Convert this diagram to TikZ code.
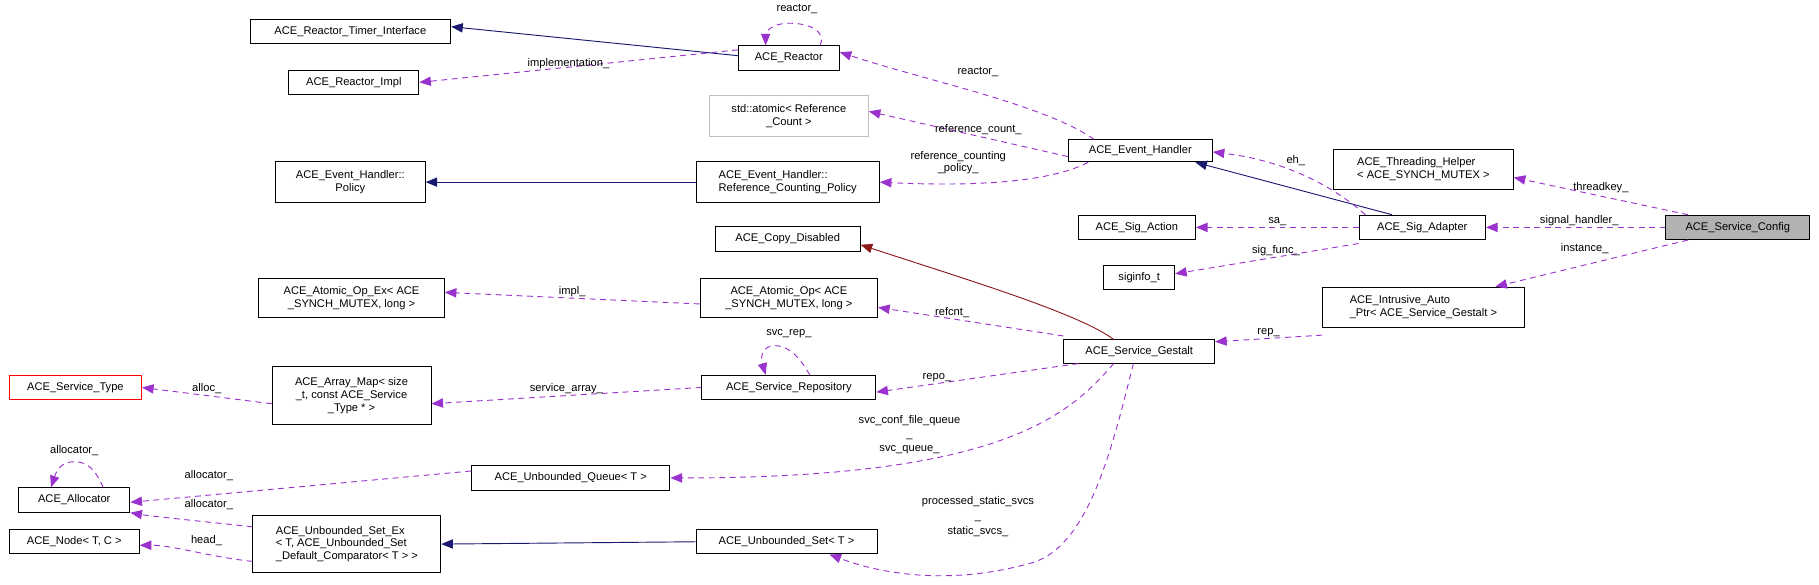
\documentclass[tikz,border=0pt]{standalone}
\usepackage{fontspec}
\setmainfont{Liberation Sans}
\usetikzlibrary{arrows.meta}
\definecolor{inh}{HTML}{191970}
\definecolor{use}{HTML}{9A32CD}
\definecolor{pri}{HTML}{8B1A1A}
\begin{document}
\begin{tikzpicture}[x=1pt,y=-1pt,
  every node/.style={font=\fontsize{9.6}{11}\selectfont},
  box/.style={draw=black,line width=0.8pt,fill=white,inner sep=0pt,align=center,minimum height=21pt},
  arr/.style={-{Triangle[length=10pt,width=8pt]}},
  ih/.style={arr,draw=inh,line width=0.8pt},
  pr/.style={arr,draw=pri,line width=0.8pt},
  us/.style={arr,draw=use,line width=0.8pt,dash pattern=on 5pt off 4pt},
  lb/.style={inner sep=1pt,align=center,font=\fontsize{9.6}{8}\selectfont}]
\useasboundingbox (0,0) rectangle (1568,504);
\node[box,minimum width=173pt] (rti) at (302,27) {ACE\_Reactor\_Timer\_Interface};
\node[box,minimum width=112pt] (rim) at (305,71) {ACE\_Reactor\_Impl};
\node[box,minimum width=87pt] (rea) at (680,50) {ACE\_Reactor};
\node[box,draw=black!25,minimum width=137pt,minimum height=35pt] (sta) at (680,100) {std::atomic< Reference\\\_Count >};
\node[box,minimum width=129pt,minimum height=35pt] (pol) at (302,157) {ACE\_Event\_Handler::\\Policy};
\node[box,minimum width=158pt,minimum height=35pt,align=left] (rcp) at (679,157) {ACE\_Event\_Handler::\\Reference\_Counting\_Policy};
\node[box,minimum width=124pt,minimum height=19pt] (eh) at (983,130) {ACE\_Event\_Handler};
\node[box,minimum width=155pt,minimum height=35pt,align=left] (thr) at (1227,146) {ACE\_Threading\_Helper\\< ACE\_SYNCH\_MUTEX >};
\node[box,minimum width=101pt] (sac) at (980,196) {ACE\_Sig\_Action};
\node[box,minimum width=109pt] (sad) at (1226,196) {ACE\_Sig\_Adapter};
\node[box,fill=black!30,minimum width=124pt] (sc) at (1498,196) {ACE\_Service\_Config};
\node[box,minimum width=61pt] (sig) at (982,239) {siginfo\_t};
\node[box,minimum width=125pt] (cd) at (679,206) {ACE\_Copy\_Disabled};
\node[box,minimum width=160pt,minimum height=34pt] (aox) at (303,257) {ACE\_Atomic\_Op\_Ex< ACE\\\_SYNCH\_MUTEX, long >};
\node[box,minimum width=153pt,minimum height=34pt] (ao) at (680,257) {ACE\_Atomic\_Op< ACE\\\_SYNCH\_MUTEX, long >};
\node[box,minimum width=174pt,minimum height=35pt,align=left] (iap) at (1227,265) {ACE\_Intrusive\_Auto\\\_Ptr< ACE\_Service\_Gestalt >};
\node[box,minimum width=130pt,minimum height=20pt] (sg) at (982,303) {ACE\_Service\_Gestalt};
\node[box,draw=red,minimum width=114pt] (st) at (65,334) {ACE\_Service\_Type};
\node[box,minimum width=137pt,minimum height=50pt] (am) at (303,341) {ACE\_Array\_Map< size\\\_t, const ACE\_Service\\\_Type * >};
\node[box,minimum width=150pt] (sr) at (680,334) {ACE\_Service\_Repository};
\node[box,minimum width=171pt] (uq) at (492,412) {ACE\_Unbounded\_Queue< T >};
\node[box,minimum width=96pt] (al) at (64,431) {ACE\_Allocator};
\node[box,minimum width=162pt,minimum height=49pt,align=left] (usx) at (299,469) {ACE\_Unbounded\_Set\_Ex\\< T, ACE\_Unbounded\_Set\\\_Default\_Comparator< T > >};
\node[box,minimum width=156pt] (us) at (678,467) {ACE\_Unbounded\_Set< T >};
\node[box,minimum width=112pt] (nd) at (64,467) {ACE\_Node< T, C >};
% inheritance
\draw[ih] ([yshift=2pt]rea.west) -- ([yshift=4pt]rti.east);
\draw[ih] (rcp.west) -- (pol.east);
\draw[ih] ([xshift=-26pt]sad.north) -- ([xshift=-15pt]eh.south east);
\draw[ih] (us.west) -- (usx.east);
\draw[pr] ([xshift=-22pt]sg.north) .. controls (930,270) and (830,240) .. ([yshift=-5pt]cd.east);
% usage
\draw[us] ([xshift=27pt]rea.north) .. controls (712,28) and (700,20) .. (680,20) .. controls (665,20) and (660,28) .. ([xshift=-20pt]rea.north);
\node[lb] (l1) at (687,8) {reactor\_};
\draw[us] ([yshift=7pt]rea.west) -- (rim.east);
\node[lb] at (490,55) {implementation\_};
\draw[us] ([xshift=-40pt]eh.north) .. controls (900,90) and (800,70) .. ([yshift=5pt]rea.east);
\node[lb] at (843,62) {reactor\_};
\draw[us] ([yshift=-5pt]eh.west) -- node[lb,above,pos=0.45] {reference\_count\_} ([yshift=4pt]sta.east);
\draw[us] ([xshift=-45pt]eh.south) .. controls (900,160) and (820,160) .. (rcp.east);
\node[lb] at (826,140) {reference\_counting\\\_policy\_};
\draw[us] ([xshift=-49pt]sad.north) .. controls (1160,170) and (1120,140) .. ([yshift=-1pt]eh.east);
\node[lb] at (1117,138) {eh\_};
\draw[us] ([xshift=-43pt]sc.north) -- ([yshift=-7pt]thr.east);
\node[lb] at (1380,162) {threadkey\_};
\draw[us] (sc.west) -- node[lb,above,pos=0.48] {signal\_handler\_} (sad.east);
\draw[us] ([xshift=-43pt]sc.south) -- ([xshift=62pt]iap.north);
\node[lb] at (1366,214) {instance\_};
\draw[us] (sad.west) -- node[lb,above,pos=0.5] {sa\_} (sac.east);
\draw[us] ([yshift=-3pt]sad.south west) -- node[lb,above,pos=0.45] {sig\_func\_} ([yshift=3pt]sig.east);
\draw[us] ([yshift=-5pt]ao.west) -- node[lb,above,pos=0.5] {impl\_} ([yshift=5pt]aox.east);
\draw[us] ([yshift=3pt]sg.north west) -- node[lb,above,pos=0.6] {refcnt\_} ([yshift=-8pt]ao.east);
\draw[us] ([yshift=-6pt]iap.south west) -- node[lb,above,pos=0.5] {rep\_} ([yshift=-2pt]sg.north east);
\draw[us] ([xshift=13pt]sg.south west) -- node[lb,above,pos=0.7] {repo\_} ([yshift=-4pt]sr.east);
\draw[us] ([xshift=18pt]sr.north) .. controls (686,302) and (676,298) .. (668,298) .. controls (658,298) and (655,306) .. ([xshift=-20pt]sr.north);
\node[lb] at (680,288) {svc\_rep\_};
\draw[us] (sr.west) -- node[lb,above,pos=0.5] {service\_array\_} ([yshift=-7pt]am.east);
\draw[us] ([yshift=-7pt]am.west) -- node[lb,above,pos=0.5] {alloc\_} (st.east);
\draw[us] ([xshift=-22pt]sg.south) .. controls (920,360) and (860,412) .. (uq.east);
\node[lb,font=\fontsize{9.6}{12}\selectfont] at (784,375) {svc\_conf\_file\_queue\\\_\\svc\_queue\_};
\draw[us] ([xshift=25pt]al.north) .. controls (82,405) and (76,398) .. (64,398) .. controls (53,398) and (49,405) .. ([xshift=-20pt]al.north);
\node[lb] at (64,388) {allocator\_};
\draw[us] ([yshift=6pt]uq.west) -- ([yshift=-2pt]al.east);
\node[lb] at (180,410) {allocator\_};
\draw[us] ([yshift=-10pt]usx.north west) .. controls (180,450) and (130,445) .. (al.south east);
\node[lb] at (180,435) {allocator\_};
\draw[us] ([yshift=10pt]usx.south west) .. controls (180,480) and (150,470) .. ([yshift=-3pt]nd.east);
\node[lb] at (178,466) {head\_};
\draw[us] ([xshift=-5pt]sg.south) .. controls (960,380) and (940,470) .. (890,485) .. controls (820,505) and (760,495) .. ([xshift=37pt]us.south);
\node[lb,font=\fontsize{9.6}{13}\selectfont] at (843,445) {processed\_static\_svcs\\\_\\static\_svcs\_};
\end{tikzpicture}
\end{document}
